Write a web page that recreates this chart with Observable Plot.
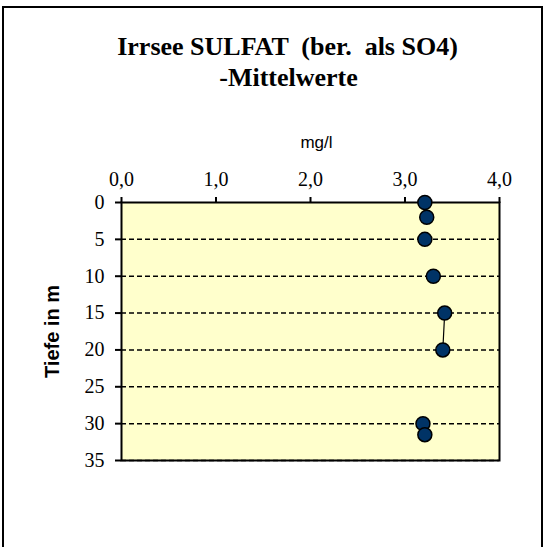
<!DOCTYPE html>
<html>
<head>
<meta charset="utf-8">
<script src="https://cdn.jsdelivr.net/npm/d3@7"></script>
<script src="https://cdn.jsdelivr.net/npm/@observablehq/plot@0.6"></script>
<style>
  html, body { margin: 0; padding: 0; background: #fff; }
  #wrap { position: relative; width: 546px; height: 547px; overflow: hidden; }
  #frame { position: absolute; left: 2px; top: 6px; width: 537px; height: 600px; border: 2px solid #000; box-sizing: content-box; pointer-events: none; }
  #chart { position: absolute; left: 0; top: 0; }
</style>
</head>
<body>
<div id="wrap"><div id="chart"></div><div id="frame"></div></div>
<script>
const titleLines = ["Irrsee SULFAT  (ber.  als SO4)", "-Mittelwerte"];
const xLabel = "mg/l";
const yLabel = "Tiefe in m";
const depths = [0, 2, 5, 10, 15, 20, 30, 31.5];
const sulfat = [3.21, 3.23, 3.21, 3.30, 3.42, 3.40, 3.19, 3.21];
const xTicks = [0, 1, 2, 3, 4];
const yTicks = [0, 5, 10, 15, 20, 25, 30, 35];

const data = depths.map((d, i) => ({depth: d, value: sulfat[i]}));
const linked = data.filter(d => d.depth >= 15 && d.depth <= 20);
const fmt = v => v.toFixed(1).replace(".", ",");

const W = 546, H = 547;
const serif = "Liberation Serif, Times New Roman, serif";
const sans = "Liberation Sans, Arial, sans-serif";

const plot = Plot.plot({
  width: W,
  height: H,
  marginLeft: 121,
  marginRight: 47,
  marginTop: 202,
  marginBottom: 87,
  style: {background: "transparent", color: "#000", fontFamily: serif},
  x: {domain: [0, 4], axis: null},
  y: {domain: [0, 35], reverse: true, axis: null},
  marks: [
    Plot.frame({fill: "#FFFFCC", stroke: null}),
    Plot.ruleY(yTicks.filter(t => t > 0), {stroke: "#000", strokeWidth: 1.5, strokeDasharray: "5,3"}),
    Plot.frame({stroke: "#000", strokeWidth: 2}),
    Plot.axisX({anchor: "top", ticks: xTicks, tickFormat: fmt, tickSize: 6, tickPadding: 11,
      label: null, stroke: "#000", strokeWidth: 2, fontFamily: serif, fontSize: 20}),
    Plot.axisY({anchor: "left", ticks: yTicks, tickFormat: d => String(d), tickSize: 6, tickPadding: 11,
      label: null, stroke: "#000", strokeWidth: 2, fontFamily: serif, fontSize: 20}),
    Plot.line(linked, {x: "value", y: "depth", stroke: "#000", strokeWidth: 1.2}),
    Plot.dot(data, {x: "value", y: "depth", r: 7, fill: "#003366", stroke: "#000", strokeWidth: 1.5}),
    Plot.text([titleLines[0]], {text: d => d, frameAnchor: "top-left", dx: 287 - 121, dy: 54 - 202,
      textAnchor: "middle", lineAnchor: "bottom", fontFamily: serif, fontWeight: "bold", fontSize: 26}),
    Plot.text([titleLines[1]], {text: d => d, frameAnchor: "top-left", dx: 288 - 121, dy: 85 - 202,
      textAnchor: "middle", lineAnchor: "bottom", fontFamily: serif, fontWeight: "bold", fontSize: 26}),
    Plot.text([xLabel], {text: d => d, frameAnchor: "top-left", dx: 316 - 121, dy: 147 - 202,
      textAnchor: "middle", lineAnchor: "bottom", fontFamily: sans, fontSize: 17}),
    Plot.text([yLabel], {text: d => d, frameAnchor: "left", dx: 52 - 121, dy: 0, rotate: -90,
      textAnchor: "middle", lineAnchor: "middle", fontFamily: sans, fontWeight: "bold", fontSize: 20})
  ]
});
document.getElementById("chart").appendChild(plot);
</script>
</body>
</html>
